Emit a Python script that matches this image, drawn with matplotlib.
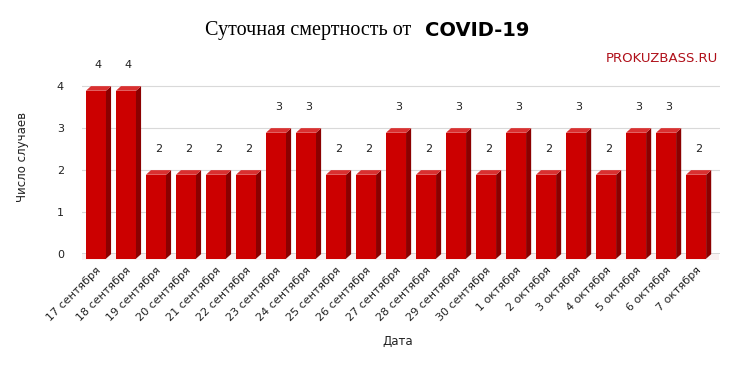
import numpy as np
import matplotlib.pyplot as plt
from matplotlib.patches import Polygon

dates = ['17 сентября', '18 сентября', '19 сентября', '20 сентября', '21 сентября',
         '22 сентября', '23 сентября', '24 сентября', '25 сентября', '26 сентября',
         '27 сентября', '28 сентября', '29 сентября', '30 сентября', '1 октября',
         '2 октября', '3 октября', '4 октября', '5 октября', '6 октября', '7 октября']
deaths = [4, 4, 2, 2, 2, 2, 3, 3, 2, 2, 3, 2, 3, 2, 3, 2, 3, 2, 3, 3, 2]

fig = plt.figure(figsize=(7.37, 3.71), dpi=100)
ax = fig.add_axes([0.111, 0.315, 0.866, 0.523])

x = np.arange(len(deaths))
w = 0.67
dx, dy = 0.17, 0.11  # depth of the 3d effect

ax.set_xlim(-0.47, 20.8)
ax.set_ylim(0, 4.62)

for yv in [1, 2, 3, 4]:
    ax.axhline(yv, color='#d9d9d9', lw=0.8, zorder=0)
ax.axhline(0, color='#333333', lw=1.0, zorder=2)

# soft shadow under the bars
ax.fill_between([-0.45, 20.75], [-0.15, -0.15], [0, 0], color='#f9f1f1',
                zorder=0, clip_on=False, lw=0)

ax.bar(x, deaths, width=w, bottom=-dy, color='#cc0000', zorder=3, clip_on=False)
for xi, v in zip(x, deaths):
    l, r = xi - w / 2, xi + w / 2
    side = Polygon([(r, -dy), (r + dx, 0), (r + dx, v), (r, v - dy)],
                   closed=True, color='#8b0000', zorder=3, lw=0, clip_on=False)
    top = Polygon([(l, v - dy), (r, v - dy), (r + dx, v), (l + dx, v)],
                  closed=True, color='#d93030', zorder=3, lw=0)
    ax.add_patch(side)
    ax.add_patch(top)
    ax.text(xi + dx / 2, v + 0.5, str(v), ha='center', va='center',
            fontsize=8, color='#222222')

ax.set_xticks(x)
ax.set_xticklabels(dates, rotation=45, ha='right', va='top',
                   rotation_mode='anchor', fontsize=8)
ax.set_yticks([0, 1, 2, 3, 4])
ax.tick_params(axis='both', length=0, labelsize=8, colors='#222222')
ax.tick_params(axis='x', pad=8)
ax.tick_params(axis='y', pad=13)
for s in ax.spines.values():
    s.set_visible(False)

ax.set_ylabel('Число случаев', fontsize=8.5, labelpad=20, color='#222222')
fig.text(0.539, 0.07, 'Дата', ha='center', fontsize=8.5, color='#222222')

fig.text(0.565, 0.918, 'Суточная смертность от ', ha='right', va='center',
         fontsize=14.5, family='Liberation Serif')
fig.text(0.576, 0.918, 'COVID-19', ha='left', va='center',
         fontsize=14, family='DejaVu Sans', fontweight='bold')
fig.text(0.974, 0.843, 'PROKUZBASS.RU', ha='right', va='center',
         fontsize=9.5, color='#b0101a')

fig.savefig('out.png', dpi=100)
